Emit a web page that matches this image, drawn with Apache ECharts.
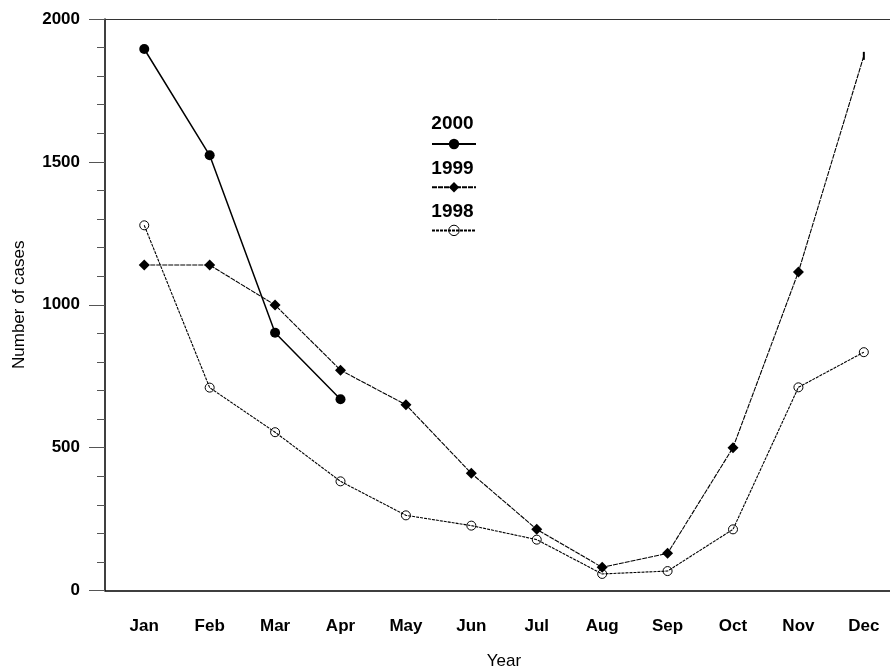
<!DOCTYPE html>
<html>
<head>
<meta charset="utf-8">
<script src="https://cdn.jsdelivr.net/npm/echarts@6/dist/echarts.min.js"></script>
<style>
html,body{margin:0;padding:0;background:#fff;}
#chart{width:890px;height:667px;}
</style>
</head>
<body>
<div id="chart"></div>
<script>
var months = ['Jan','Feb','Mar','Apr','May','Jun','Jul','Aug','Sep','Oct','Nov','Dec'];
var monthPos = [1,2,3,4,5,6,7,8,9,10,11,12];
var y2000 = [1895, 1523, 902, 669];
var y1999 = [1139, 1139, 999, 771, 650, 410, 214, 81, 130, 500, 1115, 1871];
var y1998 = [1278, 710, 554, 382, 263, 227, 178, 58, 68, 214, 711, 834];
var yTicks = [0, 500, 1000, 1500, 2000];

function pairs(vals) {
  return vals.map(function (v, i) { return [monthPos[i], v]; });
}
var d1999 = pairs(y1999);
d1999[11] = { value: d1999[11], symbol: 'rect', symbolSize: [2, 8] };

var FONT = '"Liberation Sans", Arial, sans-serif';
var chart = echarts.init(document.getElementById('chart'));
chart.setOption({
  animation: false,
  backgroundColor: '#fff',
  grid: { left: 105, right: 0, top: 19, bottom: 76.5, containLabel: false, outerBoundsMode: 'none' },
  xAxis: [{
    type: 'value', min: 0.4, max: 12.4, position: 'bottom',
    name: 'Year', nameLocation: 'middle', nameGap: 62,
    nameTextStyle: { fontFamily: FONT, fontSize: 17, color: '#000', padding: [0, 0, 0, 13] },
    axisLine: { show: true, onZero: false, lineStyle: { color: '#000', width: 1.5 } },
    axisTick: { show: false },
    splitLine: { show: false },
    axisLabel: {
      customValues: monthPos, margin: 27,
      fontFamily: FONT, fontSize: 17, fontWeight: 'bold', color: '#000',
      formatter: function (v) { return months[Math.round(v) - 1]; }
    }
  }, {
    type: 'value', min: 0.4, max: 12.4, position: 'top',
    axisLine: { show: true, onZero: false, lineStyle: { color: '#333', width: 1 } },
    axisTick: { show: false }, axisLabel: { show: false }, splitLine: { show: false }
  }],
  yAxis: {
    type: 'value', min: 0, max: 2000, interval: 500,
    name: 'Number of cases', nameLocation: 'middle', nameGap: 77, nameRotate: 90,
    nameTextStyle: { fontFamily: FONT, fontSize: 17, color: '#000' },
    axisLine: { show: true, lineStyle: { color: '#000', width: 1.5 } },
    axisTick: { show: true, length: 16, lineStyle: { color: '#555', width: 1 } },
    minorTick: { show: true, splitNumber: 5, length: 8, lineStyle: { color: '#555', width: 1 } },
    splitLine: { show: false },
    axisLabel: {
      customValues: yTicks, margin: 25,
      fontFamily: FONT, fontSize: 17, fontWeight: 'bold', color: '#000',
      formatter: function (v) { return String(v); }
    }
  },
  legend: {
    orient: 'vertical', left: 431, top: 137.5, padding: 0,
    itemWidth: 44, itemHeight: 13, itemGap: 31.5,
    data: ['2000', '1999', { name: '1998', itemStyle: { borderWidth: 1 } }],
    formatter: function () { return ''; },
    textStyle: { fontSize: 1 },
    selectedMode: false
  },
  graphic: [
    { type: 'text', x: 452.5, y: 124, style: { text: '2000', font: 'bold 19px ' + FONT, fill: '#000', align: 'center', verticalAlign: 'middle' } },
    { type: 'text', x: 452.5, y: 169, style: { text: '1999', font: 'bold 19px ' + FONT, fill: '#000', align: 'center', verticalAlign: 'middle' } },
    { type: 'text', x: 452.5, y: 212, style: { text: '1998', font: 'bold 19px ' + FONT, fill: '#000', align: 'center', verticalAlign: 'middle' } }
  ],
  series: [{
    name: '2000', type: 'line', data: pairs(y2000),
    symbol: 'circle', symbolSize: 10,
    lineStyle: { color: '#000', width: 1.5, type: 'solid' },
    itemStyle: { color: '#000' }
  }, {
    name: '1999', type: 'line', data: d1999,
    symbol: 'diamond', symbolSize: 11,
    lineStyle: { color: '#000', width: 1.1, type: [5, 1] },
    itemStyle: { color: '#000' }
  }, {
    name: '1998', type: 'line', data: pairs(y1998),
    symbol: 'circle', symbolSize: 9,
    lineStyle: { color: '#000', width: 1.1, type: [3, 1] },
    itemStyle: { color: 'rgba(255,255,255,0)', borderColor: '#000', borderWidth: 1 }
  }]
});
</script>
</body>
</html>
